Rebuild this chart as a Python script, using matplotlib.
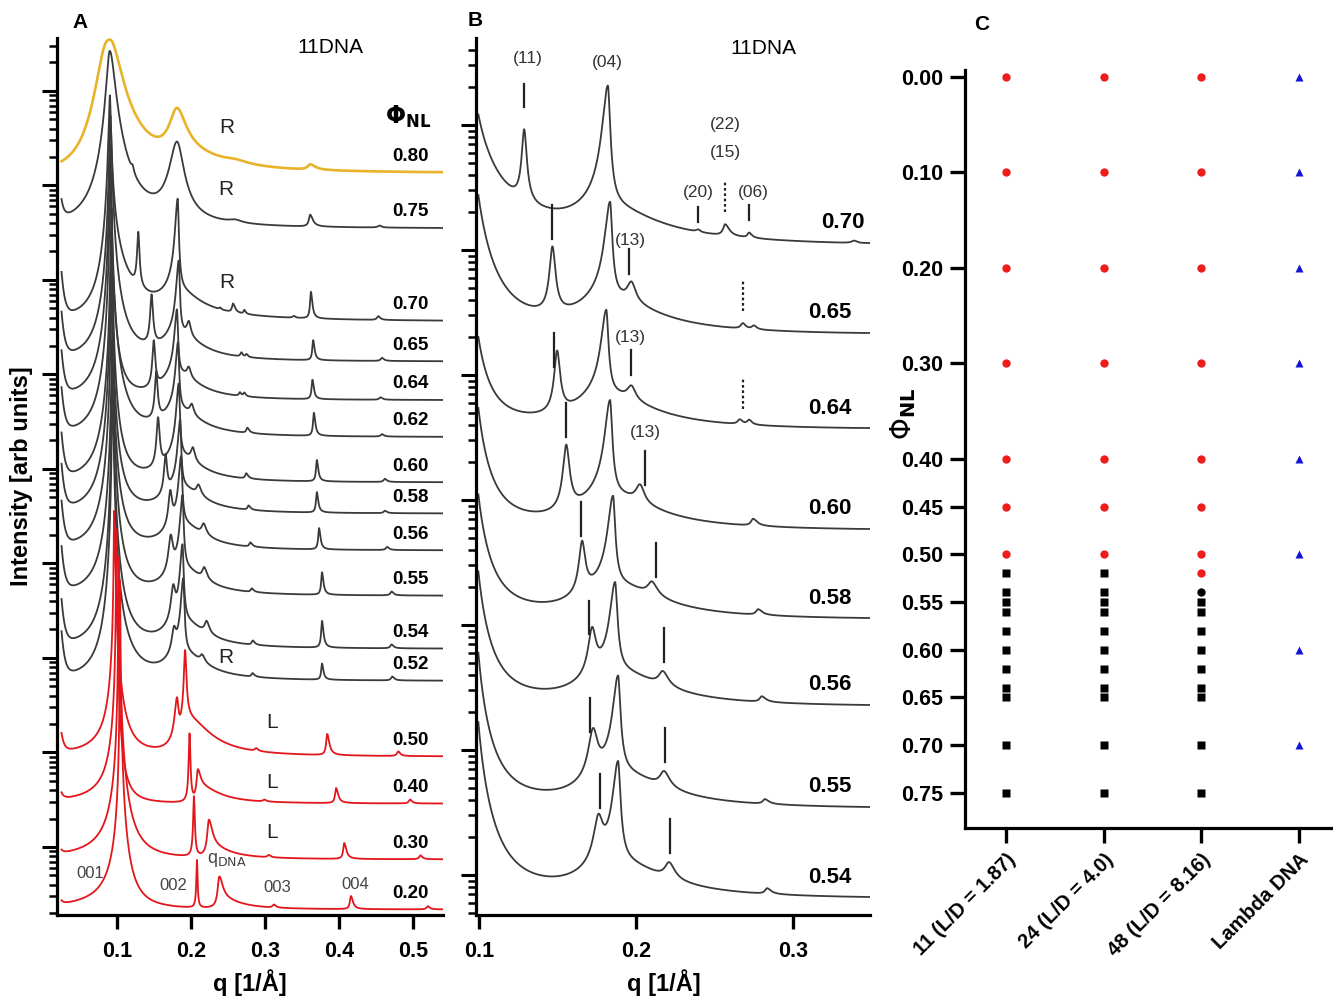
import numpy as np
import matplotlib.pyplot as plt
from matplotlib.ticker import LogLocator, NullFormatter, FixedLocator

plt.rcParams['font.family'] = ['Liberation Sans', 'DejaVu Sans']
plt.rcParams['mathtext.fontset'] = 'dejavusans'

# ---- SAXS profiles of 11DNA, one per nanolipid volume fraction ----
phi = ['0.80', '0.75', '0.70', '0.65', '0.64', '0.62', '0.60', '0.58',
       '0.56', '0.55', '0.54', '0.52', '0.50', '0.40', '0.30', '0.20']
line_color = ['#e8b32a'] + ['#3a3a3a'] * 11 + ['#e3161b'] * 4

# first-order peak: position, height, left/right half widths and exponents
main_q = [0.0905, 0.0902, 0.0905, 0.0910, 0.0910, 0.0913, 0.0925, 0.0925,
          0.0930, 0.0940, 0.0940, 0.0940, 0.0960, 0.0990, 0.1020, 0.1040]
main_amp = [25, 75, 250, 400, 500, 630, 800, 1000,
            1000, 1260, 1580, 2000, 400, 800, 1600, 3000]
main_wl = [0.014, 0.0041, 0.00163, 0.00128, 0.00115, 0.00102, 0.00091, 0.00081,
           0.00081, 0.00072, 0.00065, 0.00057, 0.00035, 0.000227, 0.000181, 0.000113]
main_wr = [0.013, 0.0063, 0.00114, 0.00151, 0.00081, 0.0012, 0.00073, 0.00067,
           0.00069, 0.00064, 0.0007, 0.0007, 0.0011, 0.0005, 0.00065, 0.0004]
main_pl = [2.8, 2, 2, 2, 2, 2, 2, 2, 2, 2, 2, 2, 1.5, 1.5, 1.5, 1.5]
main_pr = [2, 2, 1.5, 2, 2, 2, 2, 2, 2, 2, 2, 2, 2, 2, 2, 2]
lowq = [0.0, 0.4, 1.2, 1.2, 1.2, 1.2, 1.2, 1.2, 1.2, 1.2, 1.2, 1.2, 0.35, 0.1, 0.05, 0.05]

# higher-order peaks: (q, height, left width, right width)
peaks = {
    '0.80': [(0.181, 3.3, 0.010, 0.012), (0.20, 0.25, 0.02, 0.05), (0.26, 0.1, 0.02, 0.02),
             (0.361, 0.15, 0.004, 0.008)],
    '0.75': [(0.121, 0.6, 0.002, 0.002), (0.181, 7.0, 0.009, 0.008), (0.26, 0.08, 0.01, 0.01),
             (0.361, 0.35, 0.002, 0.004), (0.455, 0.05, 0.003, 0.003)],
    '0.70': [(0.1287, 6.6, 0.0015, 0.0015), (0.182, 18.0, 0.003, 0.0012), (0.182, 0.9, 0.02, 0.03),
             (0.2395, 0.06, 0.0015, 0.0015), (0.2567, 0.3, 0.0015, 0.003), (0.272, 0.12, 0.0012, 0.002),
             (0.339, 0.05, 0.002, 0.002), (0.362, 1.0, 0.0012, 0.002), (0.453, 0.1, 0.002, 0.003)],
    '0.65': [(0.1467, 3.6, 0.0018, 0.0018), (0.1834, 9.7, 0.003, 0.0012), (0.1834, 0.9, 0.02, 0.03),
             (0.197, 0.8, 0.003, 0.003), (0.268, 0.12, 0.0015, 0.002), (0.275, 0.08, 0.0015, 0.002),
             (0.365, 0.65, 0.0012, 0.002), (0.458, 0.08, 0.002, 0.003)],
    '0.64': [(0.1497, 2.9, 0.0018, 0.0018), (0.181, 7.2, 0.003, 0.0012), (0.181, 0.9, 0.02, 0.03),
             (0.197, 0.5, 0.003, 0.003), (0.266, 0.1, 0.0015, 0.002), (0.272, 0.1, 0.0015, 0.002),
             (0.364, 0.62, 0.0012, 0.002), (0.456, 0.06, 0.002, 0.003)],
    '0.62': [(0.153, 3.4, 0.0018, 0.0018), (0.1825, 8.2, 0.003, 0.0012), (0.1825, 0.9, 0.02, 0.03),
             (0.201, 0.5, 0.003, 0.003), (0.276, 0.15, 0.0015, 0.003), (0.366, 0.78, 0.0012, 0.002),
             (0.458, 0.06, 0.002, 0.003)],
    '0.60': [(0.1555, 3.4, 0.002, 0.002), (0.1834, 9.2, 0.003, 0.0012), (0.1834, 0.9, 0.02, 0.03),
             (0.2025, 0.65, 0.003, 0.003), (0.2745, 0.15, 0.0015, 0.003), (0.370, 0.7, 0.0012, 0.002),
             (0.462, 0.08, 0.002, 0.003)],
    '0.58': [(0.1656, 2.6, 0.002, 0.002), (0.1853, 7.9, 0.003, 0.0012), (0.1853, 0.9, 0.02, 0.03),
             (0.210, 0.45, 0.003, 0.004), (0.2777, 0.12, 0.0015, 0.003), (0.370, 0.66, 0.0012, 0.002),
             (0.462, 0.06, 0.002, 0.003)],
    '0.56': [(0.172, 2.4, 0.0025, 0.0025), (0.1866, 8.0, 0.003, 0.0013), (0.1866, 0.9, 0.02, 0.03),
             (0.217, 0.45, 0.003, 0.004), (0.280, 0.12, 0.0015, 0.003), (0.373, 0.7, 0.0012, 0.002),
             (0.465, 0.08, 0.002, 0.003)],
    '0.55': [(0.1726, 2.5, 0.003, 0.003), (0.1885, 9.7, 0.003, 0.0013), (0.1885, 0.9, 0.02, 0.03),
             (0.2178, 0.5, 0.003, 0.004), (0.282, 0.1, 0.0015, 0.003), (0.377, 0.75, 0.0012, 0.002),
             (0.471, 0.1, 0.002, 0.003)],
    '0.54': [(0.176, 2.5, 0.003, 0.003), (0.1885, 10.7, 0.003, 0.0013), (0.1885, 0.9, 0.02, 0.03),
             (0.221, 0.5, 0.003, 0.004), (0.2834, 0.12, 0.0015, 0.003), (0.377, 0.95, 0.0012, 0.002),
             (0.471, 0.1, 0.002, 0.003)],
    '0.52': [(0.177, 1.5, 0.003, 0.003), (0.1895, 10.2, 0.003, 0.0013), (0.1895, 0.9, 0.02, 0.03),
             (0.215, 0.3, 0.003, 0.004), (0.283, 0.1, 0.0015, 0.003), (0.377, 0.5, 0.0012, 0.002),
             (0.472, 0.1, 0.002, 0.003)],
    '0.50': [(0.181, 2.5, 0.003, 0.002), (0.192, 11.0, 0.0015, 0.0015), (0.195, 1.5, 0.01, 0.03),
             (0.288, 0.08, 0.002, 0.003), (0.384, 0.7, 0.0015, 0.003), (0.48, 0.12, 0.002, 0.003)],
    '0.40': [(0.198, 4.5, 0.001, 0.001), (0.209, 0.8, 0.0015, 0.004), (0.21, 0.5, 0.003, 0.03),
             (0.299, 0.05, 0.002, 0.003), (0.396, 0.45, 0.0015, 0.003), (0.496, 0.1, 0.002, 0.003)],
    '0.30': [(0.204, 3.6, 0.001, 0.001), (0.224, 1.3, 0.002, 0.005), (0.225, 0.3, 0.004, 0.03),
             (0.305, 0.06, 0.002, 0.003), (0.407, 0.48, 0.0015, 0.003), (0.51, 0.1, 0.002, 0.003)],
    '0.20': [(0.208, 2.3, 0.0008, 0.0008), (0.238, 1.0, 0.002, 0.005), (0.24, 0.25, 0.004, 0.03),
             (0.312, 0.08, 0.002, 0.003), (0.416, 0.38, 0.0015, 0.003), (0.52, 0.08, 0.002, 0.003)],
}

# log10 intensity at the high-q end of each stacked trace
level_a = [7.14, 6.55, 5.57, 5.14, 4.73, 4.34, 3.86, 3.53,
           3.14, 2.66, 2.10, 1.76, 0.96, 0.46, -0.13, -0.66]
level_b = {'0.70': 5.056, '0.65': 4.336, '0.64': 3.576, '0.60': 2.768,
           '0.58': 2.056, '0.56': 1.36, '0.55': 0.544, '0.54': -0.176}

# indexed reflections marked in panel B: (11)-type and (13)-type positions
mark_11 = {'0.70': 0.1287, '0.65': 0.1467, '0.64': 0.1478, '0.60': 0.1555,
           '0.58': 0.1650, '0.56': 0.1700, '0.55': 0.1707, '0.54': 0.1771}
mark_13 = {'0.65': 0.1955, '0.64': 0.1968, '0.60': 0.2058, '0.58': 0.2127,
           '0.56': 0.2178, '0.55': 0.2184, '0.54': 0.2217}
mark_dotted = {'0.70': 0.2567, '0.65': 0.2682, '0.64': 0.2682}

# ---- phase diagram ----
samples = ['11 (L/D = 1.87)', '24 (L/D = 4.0)', '48 (L/D = 8.16)', 'Lambda DNA']
red_phi = [[0.0, 0.1, 0.2, 0.3, 0.4, 0.45, 0.5],
           [0.0, 0.1, 0.2, 0.3, 0.4, 0.45, 0.5],
           [0.0, 0.1, 0.2, 0.3, 0.4, 0.45, 0.5, 0.52]]
black_phi = [[0.52, 0.54, 0.55, 0.56, 0.58, 0.60, 0.62, 0.64, 0.65, 0.70, 0.75],
             [0.52, 0.54, 0.55, 0.56, 0.58, 0.60, 0.62, 0.64, 0.65, 0.70, 0.75],
             [0.55, 0.56, 0.58, 0.60, 0.62, 0.64, 0.65, 0.70, 0.75]]
black_round_phi = [[], [], [0.54]]
lambda_phi = [0.0, 0.1, 0.2, 0.3, 0.4, 0.5, 0.6, 0.7]
phi_ticks = [0.0, 0.1, 0.2, 0.3, 0.4, 0.45, 0.5, 0.55, 0.6, 0.65, 0.7, 0.75]


def intensity(q, i):
    name = phi[i]
    d = q - main_q[i]
    left = main_amp[i] / (1 + (np.abs(d) / main_wl[i]) ** main_pl[i])
    right = main_amp[i] / (1 + (np.abs(d) / main_wr[i]) ** main_pr[i])
    s = 1.0 + np.where(d < 0, left, right) + lowq[i] * (0.027 / q) ** 8
    for qc, a, wl, wr in peaks[name]:
        d = q - qc
        w = np.where(d < 0, wl, wr)
        s = s + a / (1 + (d / w) ** 2)
    return s


def trace(q0, q1, i, level, n=8000):
    centers = [main_q[i]] + [p[0] for p in peaks[phi[i]]]
    q = np.union1d(np.linspace(q0, q1, n), [c for c in centers if q0 < c < q1])
    s = intensity(q, i)
    return q, s * 10 ** level / s[-1]


fig = plt.figure(figsize=(13.33, 9.96), dpi=100)
W, H = 1333, 996
ax_a = fig.add_axes([57 / W, 81 / H, 386 / W, 877 / H])
ax_b = fig.add_axes([476 / W, 81 / H, 394 / W, 877 / H])
ax_c = fig.add_axes([965 / W, 168 / H, 368 / W, 758 / H])

spine_w = 2.3
for ax in (ax_a, ax_b, ax_c):
    for side in ('top', 'right'):
        ax.spines[side].set_visible(False)
    for side in ('left', 'bottom'):
        ax.spines[side].set_linewidth(spine_w)

# ---- panel A ----
for i in range(len(phi)):
    q, y = trace(0.025, 0.54, i, level_a[i])
    ax_a.plot(q, y, color=line_color[i], lw=1.9 if i == 0 else 1.3, zorder=3 if i >= 12 else 2)
    ax_a.text(0.496, 10 ** (level_a[i] + 0.17), phi[i], ha='center', va='center',
              fontsize=13.5, fontweight='bold')

ax_a.set_yscale('log')
ax_a.set_xlim(0.0189, 0.5405)
ax_a.set_ylim(10 ** -0.72, 10 ** 8.56)
ax_a.set_xticks([0.1, 0.2, 0.3, 0.4, 0.5])
ax_a.set_xticklabels(['0.1', '0.2', '0.3', '0.4', '0.5'])

ax_a.text(0.388, 10 ** 8.455, '11DNA', ha='center', va='center', fontsize=15)
ax_a.text(0.493, 10 ** 7.72, r'$\mathbf{\Phi_{NL}}$', ha='center', va='center', fontsize=17)
for qx, d, s in [(0.2486, 7.608, 'R'), (0.2473, 6.952, 'R'), (0.2486, 5.968, 'R'),
                 (0.2473, 2.01, 'R'), (0.3095, 1.322, 'L'), (0.3095, 0.687, 'L'),
                 (0.3095, 0.158, 'L')]:
    ax_a.text(qx, 10 ** d, s, ha='center', va='center', fontsize=15, color='#222222')
for qx, d, s in [(0.0635, -0.276, '001'), (0.1757, -0.403, '002'), (0.3162, -0.434, '003'),
                 (0.4216, -0.392, '004')]:
    ax_a.text(qx, 10 ** d, s, ha='center', va='center', fontsize=12, color='#444444')
ax_a.text(0.2486, 10 ** -0.138, r'q$_{\mathrm{DNA}}$', ha='center', va='center',
          fontsize=13, color='#444444')
ax_a.set_xlabel('q [1/Å]', fontsize=17, fontweight='bold')
ax_a.xaxis.set_label_coords(0.5, -0.062)
ax_a.set_ylabel('Intensity [arb units]', fontsize=17, fontweight='bold')
ax_a.yaxis.set_label_coords(-0.062, 0.5)

# ---- panel B ----
b_index = [phi.index(k) for k in level_b]
curves_b = {}
for i in b_index:
    name = phi[i]
    q, y = trace(0.0995, 0.349, i, level_b[name], n=6000)
    curves_b[name] = (q, y)
    ax_b.plot(q, y, color='#3a3a3a', lw=1.3)
    ax_b.text(0.332 if name == '0.70' else 0.3236, 10 ** (level_b[name] + 0.16), name,
              ha='center', va='center', fontsize=16, fontweight='bold')


def value_at(name, qx):
    q, y = curves_b[name]
    return np.interp(qx, q, y)


def mark(name, qx, gap, length, dotted=False):
    base = value_at(name, qx) * 10 ** gap
    ax_b.plot([qx, qx], [base, base * 10 ** length], color='#222222', lw=1.6,
              ls=(0, (1.2, 1.2)) if dotted else '-')


for name, qx in mark_11.items():
    mark(name, qx, 0.18 if name == '0.70' else 0.06, 0.18 if name == '0.70' else 0.27)
for name, qx in mark_13.items():
    mark(name, qx, 0.08, 0.2 if name in ('0.65', '0.64') else 0.27)
for name, qx in mark_dotted.items():
    mark(name, qx, 0.1, 0.25, dotted=True)
mark('0.70', 0.2395, 0.06, 0.12)
mark('0.70', 0.2722, 0.1, 0.12)

for qx, d, s in [(0.1312, 6.536, '(11)'), (0.1815, 6.504, '(04)'), (0.2567, 6.0, '(22)'),
                 (0.2567, 5.784, '(15)'), (0.2395, 5.456, '(20)'), (0.2745, 5.456, '(06)'),
                 (0.1962, 5.076, '(13)'), (0.1962, 4.30, '(13)'), (0.2057, 3.536, '(13)')]:
    ax_b.text(qx, 10 ** d, s, ha='center', va='center', fontsize=12.5, color='#333333')
ax_b.text(0.281, 10 ** 6.616, '11DNA', ha='center', va='center', fontsize=15)

ax_b.set_yscale('log')
ax_b.set_xlim(0.098, 0.349)
ax_b.set_ylim(10 ** -0.32, 10 ** 6.696)
ax_b.set_xticks([0.1, 0.2, 0.3])
ax_b.set_xticklabels(['0.1', '0.2', '0.3'])
ax_b.set_xlabel('q [1/Å]', fontsize=17, fontweight='bold')
ax_b.xaxis.set_label_coords(0.477, -0.062)

for ax in (ax_a, ax_b):
    ax.yaxis.set_major_locator(LogLocator(base=10, numticks=20))
    ax.yaxis.set_minor_locator(LogLocator(base=10, subs=np.arange(2, 10), numticks=20))
    ax.yaxis.set_major_formatter(NullFormatter())
    ax.yaxis.set_minor_formatter(NullFormatter())
    ax.tick_params(axis='y', which='major', direction='out', length=11, width=2.2)
    ax.tick_params(axis='y', which='minor', direction='out', length=6, width=1.8)
    ax.tick_params(axis='x', which='major', direction='out', length=10, width=2.4,
                   labelsize=15.5, pad=9)
    ax.tick_params(axis='x', which='minor', bottom=False)
    for lab in ax.get_xticklabels():
        lab.set_fontweight('bold')

# ---- panel C ----
for k in range(3):
    ax_c.plot([k] * len(red_phi[k]), red_phi[k], 'o', color='#ee1c1c', ms=6, mec='none')
    ax_c.plot([k] * len(black_phi[k]), black_phi[k], 's', color='black', ms=6, mec='none')
    ax_c.plot([k] * len(black_round_phi[k]), black_round_phi[k], 'o', color='black', ms=6,
              mec='none')
ax_c.plot([3] * len(lambda_phi), lambda_phi, '^', color='#1414d8', ms=6, mec='none')

ax_c.set_xlim(-0.42, 3.348)
ax_c.set_ylim(0.7867, -0.0073)
ax_c.yaxis.set_major_locator(FixedLocator(phi_ticks))
ax_c.set_yticklabels(['%.2f' % v for v in phi_ticks], fontsize=15.5, fontweight='bold')
ax_c.set_xticks(range(4))
ax_c.set_xticklabels(samples, rotation=45, ha='right', rotation_mode='anchor',
                     fontsize=14.5, fontweight='bold')
ax_c.tick_params(axis='both', direction='out', length=11, width=2.4, pad=5)
ax_c.set_ylabel(r'$\Phi_{\mathbf{NL}}$', fontsize=20)
ax_c.yaxis.set_label_coords(-0.128, 0.547)

fig.text(80 / W, 1 - 22 / H, 'A', fontsize=15, fontweight='bold', ha='center', va='center')
fig.text(475 / W, 1 - 20 / H, 'B', fontsize=15, fontweight='bold', ha='center', va='center')
fig.text(982 / W, 1 - 25 / H, 'C', fontsize=15, fontweight='bold', ha='center', va='center')

fig.savefig('out.png', dpi=100)
